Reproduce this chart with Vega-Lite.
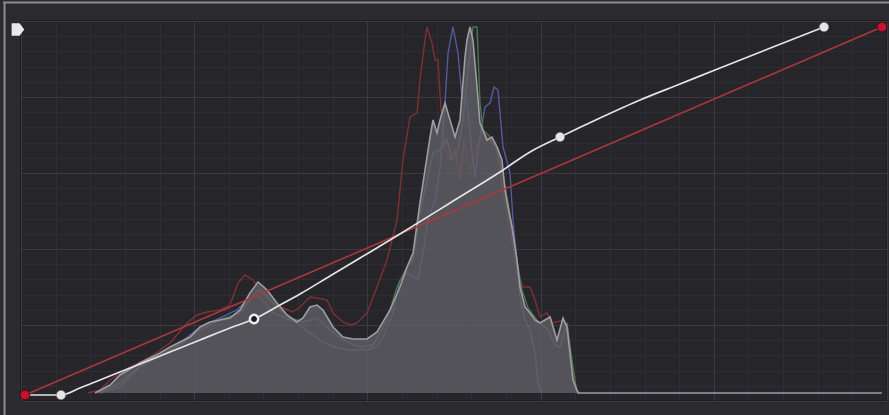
{
  "$schema": "https://vega.github.io/schema/vega-lite/v6.json",
  "width": 866,
  "height": 380,
  "autosize": "none",
  "padding": {"left": 21, "top": 21, "right": 2, "bottom": 14},
  "background": "#2b2a2f",
  "view": {"fill": "#26252a", "stroke": "#1b1a1e", "strokeWidth": 1.5},
  "datasets": {
    "lum": [
      {"x":0.0855,"y":0.0211},{"x":0.1028,"y":0.0421},{"x":0.1143,"y":0.0684},{"x":0.1259,"y":0.0842},{"x":0.1374,"y":0.1},{"x":0.149,"y":0.1132},{"x":0.1605,"y":0.1263},{"x":0.1721,"y":0.1421},{"x":0.1836,"y":0.1553},{"x":0.1952,"y":0.1684},{"x":0.2067,"y":0.1947},{"x":0.2182,"y":0.2079},{"x":0.2298,"y":0.2132},{"x":0.2413,"y":0.2184},{"x":0.2529,"y":0.2395},{"x":0.2644,"y":0.2842},{"x":0.2737,"y":0.3132},{"x":0.2841,"y":0.2921},{"x":0.2956,"y":0.2579},{"x":0.3072,"y":0.2263},{"x":0.3187,"y":0.2079},{"x":0.3256,"y":0.2184},{"x":0.3337,"y":0.2474},{"x":0.3418,"y":0.2526},{"x":0.3487,"y":0.2395},{"x":0.3603,"y":0.1947},{"x":0.3718,"y":0.1684},{"x":0.3834,"y":0.1632},{"x":0.3995,"y":0.1632},{"x":0.4111,"y":0.1816},{"x":0.4261,"y":0.2395},{"x":0.4376,"y":0.3},{"x":0.4457,"y":0.3526},{"x":0.4527,"y":0.3895},{"x":0.4607,"y":0.5211},{"x":0.4665,"y":0.6079},{"x":0.4723,"y":0.6947},{"x":0.4758,"y":0.7395},{"x":0.4804,"y":0.7053},{"x":0.4838,"y":0.7395},{"x":0.4896,"y":0.7842},{"x":0.4954,"y":0.7395},{"x":0.5012,"y":0.6947},{"x":0.5069,"y":0.7395},{"x":0.5127,"y":0.9053},{"x":0.515,"y":0.95},{"x":0.5185,"y":0.9842},{"x":0.5219,"y":0.95},{"x":0.5266,"y":0.8263},{"x":0.53,"y":0.7316},{"x":0.5381,"y":0.6868},{"x":0.5439,"y":0.6947},{"x":0.5497,"y":0.6684},{"x":0.5554,"y":0.6342},{"x":0.5589,"y":0.5553},{"x":0.5624,"y":0.5105},{"x":0.567,"y":0.4579},{"x":0.5727,"y":0.3711},{"x":0.5762,"y":0.3},{"x":0.582,"y":0.2474},{"x":0.5878,"y":0.2316},{"x":0.5935,"y":0.2132},{"x":0.5993,"y":0.2053},{"x":0.6051,"y":0.2132},{"x":0.6109,"y":0.2211},{"x":0.6189,"y":0.1605},{"x":0.6259,"y":0.2184},{"x":0.6305,"y":0.1947},{"x":0.6339,"y":0.1263},{"x":0.6374,"y":0.0553},{"x":0.6432,"y":0.0211},{"x":0.994,"y":0.0211}
    ],
    "red": [
      {"x":0.0774,"y":0.0211},{"x":0.0912,"y":0.0289},{"x":0.1028,"y":0.0553},{"x":0.1143,"y":0.0737},{"x":0.1259,"y":0.0895},{"x":0.149,"y":0.1158},{"x":0.1721,"y":0.1526},{"x":0.1917,"y":0.2053},{"x":0.2032,"y":0.2263},{"x":0.2148,"y":0.2342},{"x":0.2298,"y":0.2395},{"x":0.2413,"y":0.2526},{"x":0.2506,"y":0.3105},{"x":0.2587,"y":0.3316},{"x":0.2679,"y":0.3184},{"x":0.2794,"y":0.2842},{"x":0.291,"y":0.2579},{"x":0.3025,"y":0.2447},{"x":0.3141,"y":0.2342},{"x":0.3222,"y":0.2474},{"x":0.3337,"y":0.2737},{"x":0.3418,"y":0.2711},{"x":0.3533,"y":0.2658},{"x":0.3603,"y":0.2316},{"x":0.3718,"y":0.2079},{"x":0.3799,"y":0.2},{"x":0.388,"y":0.2053},{"x":0.3995,"y":0.2316},{"x":0.4111,"y":0.3},{"x":0.4226,"y":0.3711},{"x":0.4342,"y":0.4763},{"x":0.4411,"y":0.6342},{"x":0.4492,"y":0.7474},{"x":0.4573,"y":0.7579},{"x":0.4607,"y":0.8447},{"x":0.4665,"y":0.95},{"x":0.4688,"y":0.9842},{"x":0.4746,"y":0.9421},{"x":0.4781,"y":0.8974},{"x":0.4815,"y":0.8974},{"x":0.4838,"y":0.8105},{"x":0.4861,"y":0.7395},{"x":0.4896,"y":0.6684},{"x":0.4954,"y":0.6342},{"x":0.5012,"y":0.6605},{"x":0.5069,"y":0.5816},{"x":0.5115,"y":0.6868},{"x":0.5185,"y":0.6079},{"x":0.5266,"y":0.6684},{"x":0.5335,"y":0.7053},{"x":0.5416,"y":0.6868},{"x":0.5497,"y":0.6526},{"x":0.5566,"y":0.5474},{"x":0.5647,"y":0.4579},{"x":0.5727,"y":0.3368},{"x":0.5797,"y":0.3},{"x":0.5878,"y":0.3},{"x":0.5935,"y":0.2658},{"x":0.5993,"y":0.2211},{"x":0.6074,"y":0.2316},{"x":0.6143,"y":0.2053},{"x":0.6259,"y":0.2132},{"x":0.6305,"y":0.1868},{"x":0.6339,"y":0.1263},{"x":0.6397,"y":0.0368},{"x":0.6455,"y":0.0211}
    ],
    "blue": [
      {"x":0.0912,"y":0.0211},{"x":0.1143,"y":0.0368},{"x":0.1374,"y":0.0895},{"x":0.1605,"y":0.1158},{"x":0.1836,"y":0.1526},{"x":0.2067,"y":0.1947},{"x":0.2298,"y":0.2184},{"x":0.2494,"y":0.2395},{"x":0.261,"y":0.2658},{"x":0.2725,"y":0.2789},{"x":0.2818,"y":0.2579},{"x":0.291,"y":0.2316},{"x":0.3025,"y":0.2211},{"x":0.3187,"y":0.2053},{"x":0.3337,"y":0.1789},{"x":0.3487,"y":0.1553},{"x":0.3649,"y":0.1395},{"x":0.3799,"y":0.1342},{"x":0.3995,"y":0.1342},{"x":0.4111,"y":0.1421},{"x":0.418,"y":0.1684},{"x":0.4296,"y":0.2316},{"x":0.4376,"y":0.3184},{"x":0.4457,"y":0.3368},{"x":0.4527,"y":0.3263},{"x":0.4584,"y":0.3184},{"x":0.4642,"y":0.3895},{"x":0.47,"y":0.4763},{"x":0.4781,"y":0.5289},{"x":0.4838,"y":0.6079},{"x":0.4896,"y":0.7842},{"x":0.4931,"y":0.9158},{"x":0.4988,"y":0.9842},{"x":0.5046,"y":0.9158},{"x":0.5092,"y":0.8},{"x":0.515,"y":0.7921},{"x":0.5208,"y":0.6526},{"x":0.5242,"y":0.5895},{"x":0.53,"y":0.6947},{"x":0.5358,"y":0.7737},{"x":0.5416,"y":0.7842},{"x":0.5462,"y":0.8263},{"x":0.5508,"y":0.8184},{"x":0.5566,"y":0.6684},{"x":0.5647,"y":0.6},{"x":0.5681,"y":0.4763},{"x":0.5727,"y":0.3711},{"x":0.5762,"y":0.2737},{"x":0.582,"y":0.2132},{"x":0.5878,"y":0.1868},{"x":0.5935,"y":0.1263},{"x":0.597,"y":0.0474},{"x":0.6016,"y":0.0211}
    ],
    "green": [
      {"x":0.0889,"y":0.0211},{"x":0.1143,"y":0.0474},{"x":0.1374,"y":0.0921},{"x":0.1605,"y":0.1184},{"x":0.1836,"y":0.1474},{"x":0.2067,"y":0.1868},{"x":0.2298,"y":0.2132},{"x":0.2529,"y":0.2316},{"x":0.2644,"y":0.2658},{"x":0.2737,"y":0.2921},{"x":0.2841,"y":0.2763},{"x":0.2956,"y":0.2474},{"x":0.3106,"y":0.2184},{"x":0.3256,"y":0.2079},{"x":0.3418,"y":0.2184},{"x":0.3568,"y":0.1868},{"x":0.3718,"y":0.1605},{"x":0.3915,"y":0.1421},{"x":0.4065,"y":0.1474},{"x":0.4226,"y":0.2132},{"x":0.4342,"y":0.3},{"x":0.4457,"y":0.3526},{"x":0.4527,"y":0.3711},{"x":0.4607,"y":0.4947},{"x":0.4688,"y":0.5816},{"x":0.4758,"y":0.6526},{"x":0.4838,"y":0.6605},{"x":0.4919,"y":0.6868},{"x":0.4977,"y":0.6342},{"x":0.5046,"y":0.6605},{"x":0.5104,"y":0.7395},{"x":0.5162,"y":0.8711},{"x":0.5219,"y":0.9842},{"x":0.5266,"y":0.9842},{"x":0.53,"y":0.7842},{"x":0.5335,"y":0.7132},{"x":0.5416,"y":0.6947},{"x":0.5497,"y":0.6605},{"x":0.5566,"y":0.5947},{"x":0.5647,"y":0.4895},{"x":0.5727,"y":0.3711},{"x":0.5785,"y":0.2921},{"x":0.5855,"y":0.2447},{"x":0.5958,"y":0.2132},{"x":0.6085,"y":0.1868},{"x":0.6166,"y":0.1474},{"x":0.6224,"y":0.1421},{"x":0.6305,"y":0.2053},{"x":0.6363,"y":0.1079},{"x":0.642,"y":0.0211}
    ],
    "curve": [
      {"x":0.0046,"y":0.0158},{"x":0.0462,"y":0.0158},{"x":0.0681,"y":0.0342},{"x":0.0912,"y":0.0553},{"x":0.1259,"y":0.0868},{"x":0.1605,"y":0.1184},{"x":0.2067,"y":0.1605},{"x":0.2413,"y":0.1921},{"x":0.2691,"y":0.2158},{"x":0.2991,"y":0.2526},{"x":0.3222,"y":0.2816},{"x":0.3568,"y":0.3289},{"x":0.3915,"y":0.3763},{"x":0.4376,"y":0.4395},{"x":0.4954,"y":0.5211},{"x":0.5531,"y":0.6026},{"x":0.5878,"y":0.6553},{"x":0.6224,"y":0.6947},{"x":0.6686,"y":0.7447},{"x":0.7148,"y":0.7921},{"x":0.761,"y":0.8342},{"x":0.8014,"y":0.8711},{"x":0.8684,"y":0.9316},{"x":0.9273,"y":0.9842}
    ],
    "diag": [
      {"x":0.0046,"y":0.0158},{"x":0.9942,"y":0.9842}
    ],
    "ends": [
      {"x":0.0046,"y":0.0158},{"x":0.9942,"y":0.9842}
    ],
    "nodes": [
      {"x":0.0462,"y":0.0158},{"x":0.6224,"y":0.6947},{"x":0.9273,"y":0.9842}
    ],
    "open": [
      {"x":0.2691,"y":0.2158}
    ]
  },
  "layer": [
    {
      "encoding": {
        "x": {
          "field": "x", "type": "quantitative",
          "scale": {"domain": [0, 1], "nice": false, "zero": false},
          "axis": {
            "values": [0,0.04,0.08,0.12,0.16,0.2,0.24,0.28,0.32,0.36,0.4,0.44,0.48,0.52,0.56,0.6,0.64,0.68,0.72,0.76,0.8,0.84,0.88,0.92,0.96,1],
            "grid": true, "labels": false, "ticks": false, "domain": false, "title": null,
            "gridWidth": 1,
            "gridColor": {"condition": {"test": "abs(datum.value*5-round(datum.value*5))<0.001", "value": "#3b3a40"}, "value": "#2e2d33"}
          }
        },
        "y": {
          "field": "y", "type": "quantitative",
          "scale": {"domain": [0, 1], "nice": false, "zero": false},
          "axis": {
            "values": [0,0.04,0.08,0.12,0.16,0.2,0.24,0.28,0.32,0.36,0.4,0.44,0.48,0.52,0.56,0.6,0.64,0.68,0.72,0.76,0.8,0.84,0.88,0.92,0.96,1],
            "grid": true, "labels": false, "ticks": false, "domain": false, "title": null,
            "gridWidth": 1,
            "gridColor": {"condition": {"test": "abs(datum.value*5-round(datum.value*5))<0.001", "value": "#3b3a40"}, "value": "#2e2d33"}
          }
        }
      },
      "layer": [
        {"data": {"name": "red"}, "mark": {"type": "line", "color": "#7e3133", "strokeWidth": 1.4}},
        {"data": {"name": "blue"}, "mark": {"type": "line", "color": "#56599a", "strokeWidth": 1.4}},
        {"data": {"name": "green"}, "mark": {"type": "line", "color": "#4a7650", "strokeWidth": 1.4}},
        {"data": {"name": "lum"}, "mark": {"type": "area", "color": "#625f66", "opacity": 0.8}, "encoding": {"y2": {"datum": 0.0211}}},
        {"data": {"name": "lum"}, "mark": {"type": "line", "color": "#9f9ca2", "strokeWidth": 1.6}},
        {"data": {"name": "diag"}, "mark": {"type": "line", "color": "#ab383b", "strokeWidth": 1.6}},
        {"data": {"name": "curve"}, "mark": {"type": "line", "color": "#e4e4e4", "strokeWidth": 1.7, "interpolate": "monotone"}},
        {"data": {"name": "ends"}, "mark": {"type": "circle", "fill": "#c4122f", "stroke": "#4a0c14", "strokeWidth": 1, "size": 95, "opacity": 1}},
        {"data": {"name": "nodes"}, "mark": {"type": "circle", "fill": "#e8e6e4", "stroke": "#8a8a8a", "strokeWidth": 0.6, "size": 85, "opacity": 1}},
        {"data": {"name": "open"}, "mark": {"type": "circle", "fill": "#1d1c21", "stroke": "#ececec", "strokeWidth": 2.5, "size": 70, "opacity": 1, "strokeOpacity": 1}}
      ]
    },
    {
      "data": {"values": [{"part": "top"}]},
      "mark": {"type": "rule", "color": "#8d8c90", "strokeWidth": 2},
      "encoding": {
        "x": {"datum": -0.0208, "type": "quantitative", "scale": {"domain": [0, 1], "nice": false, "zero": false},
          "axis": {"values": [0,0.04,0.08,0.12,0.16,0.2,0.24,0.28,0.32,0.36,0.4,0.44,0.48,0.52,0.56,0.6,0.64,0.68,0.72,0.76,0.8,0.84,0.88,0.92,0.96,1], "grid": true, "labels": false, "ticks": false, "domain": false, "title": null, "gridWidth": 1, "gridColor": {"condition": {"test": "abs(datum.value*5-round(datum.value*5))<0.001", "value": "#3b3a40"}, "value": "#2e2d33"}}},
        "x2": {"datum": 1.003},
        "y": {"datum": 1.0487, "type": "quantitative", "scale": {"domain": [0, 1], "nice": false, "zero": false},
          "axis": {"values": [0,0.04,0.08,0.12,0.16,0.2,0.24,0.28,0.32,0.36,0.4,0.44,0.48,0.52,0.56,0.6,0.64,0.68,0.72,0.76,0.8,0.84,0.88,0.92,0.96,1], "grid": true, "labels": false, "ticks": false, "domain": false, "title": null, "gridWidth": 1, "gridColor": {"condition": {"test": "abs(datum.value*5-round(datum.value*5))<0.001", "value": "#3b3a40"}, "value": "#2e2d33"}}}
      }
    },
    {
      "data": {"values": [{"part": "left"}]},
      "mark": {"type": "rule", "color": "#8d8c90", "strokeWidth": 2},
      "encoding": {
        "x": {"datum": -0.019, "type": "quantitative", "scale": {"domain": [0, 1], "nice": false, "zero": false},
          "axis": {"values": [0,0.04,0.08,0.12,0.16,0.2,0.24,0.28,0.32,0.36,0.4,0.44,0.48,0.52,0.56,0.6,0.64,0.68,0.72,0.76,0.8,0.84,0.88,0.92,0.96,1], "grid": true, "labels": false, "ticks": false, "domain": false, "title": null, "gridWidth": 1, "gridColor": {"condition": {"test": "abs(datum.value*5-round(datum.value*5))<0.001", "value": "#3b3a40"}, "value": "#2e2d33"}}},
        "y": {"datum": 1.0487, "type": "quantitative", "scale": {"domain": [0, 1], "nice": false, "zero": false},
          "axis": {"values": [0,0.04,0.08,0.12,0.16,0.2,0.24,0.28,0.32,0.36,0.4,0.44,0.48,0.52,0.56,0.6,0.64,0.68,0.72,0.76,0.8,0.84,0.88,0.92,0.96,1], "grid": true, "labels": false, "ticks": false, "domain": false, "title": null, "gridWidth": 1, "gridColor": {"condition": {"test": "abs(datum.value*5-round(datum.value*5))<0.001", "value": "#3b3a40"}, "value": "#2e2d33"}}},
        "y2": {"datum": -0.037}
      }
    },
    {
      "data": {"values": [{"part": "badge"}]},
      "mark": {"type": "point", "filled": true, "color": "#ebe9e6", "opacity": 1, "size": 160, "shape": "M-1,-1 L0.25,-1 L1,0 L0.25,1 L-1,1 Z"},
      "encoding": {
        "x": {"datum": -0.0035, "type": "quantitative", "scale": {"domain": [0, 1], "nice": false, "zero": false},
          "axis": {"values": [0,0.04,0.08,0.12,0.16,0.2,0.24,0.28,0.32,0.36,0.4,0.44,0.48,0.52,0.56,0.6,0.64,0.68,0.72,0.76,0.8,0.84,0.88,0.92,0.96,1], "grid": true, "labels": false, "ticks": false, "domain": false, "title": null, "gridWidth": 1, "gridColor": {"condition": {"test": "abs(datum.value*5-round(datum.value*5))<0.001", "value": "#3b3a40"}, "value": "#2e2d33"}}},
        "y": {"datum": 0.9776, "type": "quantitative", "scale": {"domain": [0, 1], "nice": false, "zero": false},
          "axis": {"values": [0,0.04,0.08,0.12,0.16,0.2,0.24,0.28,0.32,0.36,0.4,0.44,0.48,0.52,0.56,0.6,0.64,0.68,0.72,0.76,0.8,0.84,0.88,0.92,0.96,1], "grid": true, "labels": false, "ticks": false, "domain": false, "title": null, "gridWidth": 1, "gridColor": {"condition": {"test": "abs(datum.value*5-round(datum.value*5))<0.001", "value": "#3b3a40"}, "value": "#2e2d33"}}}
      }
    }
  ]
}
